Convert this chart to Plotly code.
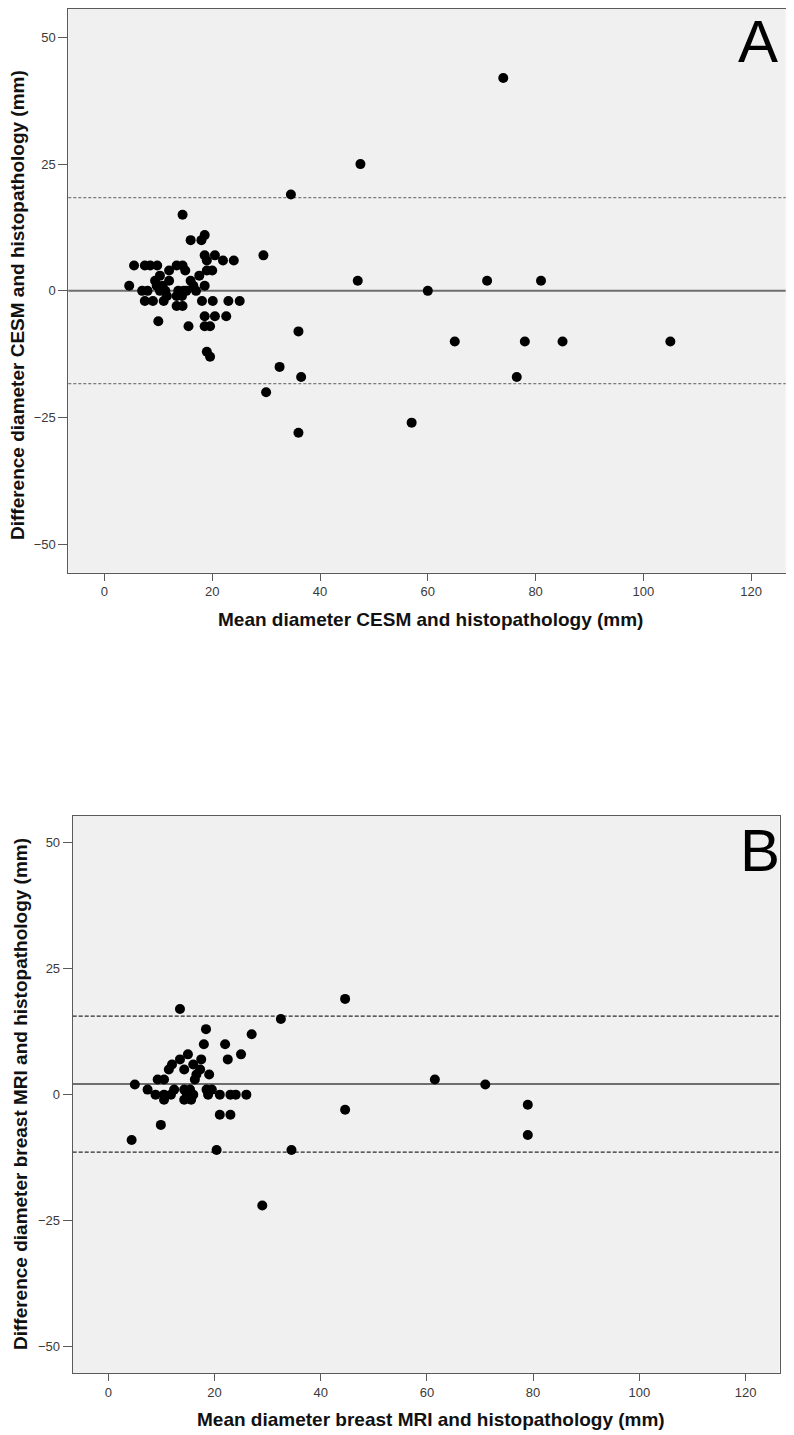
import plotly.graph_objects as go

# ---------------- Panel A data (CESM vs histopathology) ----------------
a_mean = [74, 47.5, 34.6, 47, 60, 71, 81, 36, 65, 78, 85, 105, 32.5, 36.5, 76.5, 57, 36, 30, 29.5,
          14.5, 16, 18, 18.6, 5.5, 7.5, 8.5, 9.8, 12, 13.4, 14.5, 15, 18.6, 20.5, 19, 22, 24, 19, 20,
          17.6, 4.6, 9.4, 10.3, 9.7, 12, 7, 8, 10.3, 7.5, 9, 11, 11.6, 13.7, 14.7, 15.2, 13.4, 14.4,
          13.4, 14.5, 16, 16.5, 17, 18.6, 18.1, 20.1, 23, 25.1, 18.6, 20.5, 22.6, 18.6, 19.6, 15.6,
          10, 19, 19.6, 10.8, 11.3]
a_diff = [42, 25, 19, 2, 0, 2, 2, -8, -10, -10, -10, -10, -15, -17, -17, -26, -28, -20, 7,
          15, 10, 10, 11, 5, 5, 5, 5, 4, 5, 5, 4, 7, 7, 6, 6, 6, 4, 4,
          3, 1, 2, 3, 1, 2, 0, 0, 0, -2, -2, -2, -1, 0, 0, 0, -1, -1,
          -3, -3, 2, 1, 0, 1, -2, -2, -2, -2, -5, -5, -5, -7, -7, -7,
          -6, -12, -13, 1, 0]
a_bias = 0.0
a_loa_upper = 18.4
a_loa_lower = -18.3

# ---------------- Panel B data (breast MRI vs histopathology) ----------------
b_mean = [13.5, 32.5, 44.6, 18.4, 27, 18, 22, 22.5, 25, 15, 13.5, 12, 11.4, 14.3, 16, 17.5, 17.3,
          16.6, 16.3, 19, 9.3, 10.5, 5, 7.4, 8.9, 10.5, 11.8, 10.5, 12.4, 14.3, 15.4, 14.8, 16,
          14.3, 15.6, 18.5, 19.5, 18.8, 21, 23, 24, 26, 21, 23, 9.9, 4.4, 20.4, 34.5, 44.6,
          61.5, 71, 79, 79, 29]
b_diff = [17, 15, 19, 13, 12, 10, 10, 7, 8, 8, 7, 6, 5, 5, 6, 7, 5,
          4, 3, 4, 3, 3, 2, 1, 0, 0, 0, -1, 1, 1, 1, 0, 0,
          -1, -1, 1, 1, 0, 0, 0, 0, 0, -4, -4, -6, -9, -11, -11, -3,
          3, 2, -2, -8, -22]
b_bias = 2.1
b_loa_upper = 15.6
b_loa_lower = -11.4

x_ticks = [0, 20, 40, 60, 80, 100, 120]
y_ticks = [-50, -25, 0, 25, 50]
x_range = [-6.7, 126.4]

title_xa = "Mean diameter CESM and histopathology (mm)"
title_ya = "Difference diameter CESM and histopathology (mm)"
title_xb = "Mean diameter breast MRI and histopathology (mm)"
title_yb = "Difference diameter breast MRI and histopathology (mm)"

# page body has an 8px margin: the figure is sized to fit the visible window
OFF = 8
W, H = 794 - OFF, 1435 - OFF
FONT = "Liberation Sans, Arial, sans-serif"

def fx(px):
    return (px - OFF) / W

def fy(py):
    return 1 - (py - OFF) / H

fig = go.Figure()
fig.add_trace(go.Scatter(x=a_mean, y=a_diff, mode="markers", xaxis="x", yaxis="y",
                         marker=dict(color="black", size=10, line=dict(width=0)),
                         showlegend=False, hoverinfo="x+y"))
fig.add_trace(go.Scatter(x=b_mean, y=b_diff, mode="markers", xaxis="x2", yaxis="y2",
                         marker=dict(color="black", size=10, line=dict(width=0)),
                         showlegend=False, hoverinfo="x+y"))

axis_common = dict(showline=True, mirror=True, linecolor="#5a5a5a", linewidth=1,
                   showgrid=False, zeroline=False, ticks="outside", tickcolor="#5a5a5a",
                   tickfont=dict(family=FONT, size=13, color="#3a3a3a"), fixedrange=True)

fig.update_layout(
    width=W, height=H,
    margin=dict(l=0, r=0, t=0, b=0),
    paper_bgcolor="white",
    plot_bgcolor="#f0f0f0",
    xaxis=dict(domain=[fx(68.3), fx(785.7)], range=x_range, tickvals=x_ticks, ticklen=7,
               anchor="y", **axis_common),
    yaxis=dict(domain=[fy(572.7), fy(9)], range=[-55.6, 55.6], tickvals=y_ticks,
               ticklen=9, anchor="x", **axis_common),
    xaxis2=dict(domain=[fx(72.7), fx(779.5)], range=x_range, tickvals=x_ticks, ticklen=7,
                anchor="y2", **axis_common),
    yaxis2=dict(domain=[fy(1373.3), fy(816)], range=[-55.3, 55.3], tickvals=y_ticks,
                ticklen=9, anchor="x2", **axis_common),
)

shapes = []
def hline(yval, xref, yref, color, width, dash):
    shapes.append(dict(type="line", xref=xref + " domain", yref=yref, x0=0, x1=1, y0=yval, y1=yval,
                       line=dict(color=color, width=width, dash=dash), layer="below"))

hline(a_bias, "x", "y", "#6e6e6e", 2, "solid")
hline(a_loa_upper, "x", "y", "#7a7a7a", 1.2, "3px,2px")
hline(a_loa_lower, "x", "y", "#7a7a7a", 1.2, "3px,2px")
hline(b_bias, "x2", "y2", "#6e6e6e", 2, "solid")
hline(b_loa_upper, "x2", "y2", "#2a2a2a", 1.2, "4px,2px")
hline(b_loa_lower, "x2", "y2", "#2a2a2a", 1.2, "4px,2px")
fig.update_layout(shapes=shapes)

ann = []
title_font = dict(family=FONT, size=19, color="#111111")
ann.append(dict(text="<b>%s</b>" % title_xa, xref="paper", yref="paper", x=fx(431), y=fy(619),
                showarrow=False, font=title_font, xanchor="center", yanchor="middle"))
ann.append(dict(text="<b>%s</b>" % title_ya, xref="paper", yref="paper", x=fx(18), y=fy(305),
                showarrow=False, font=title_font, textangle=-90, xanchor="center", yanchor="middle"))
ann.append(dict(text="<b>%s</b>" % title_xb, xref="paper", yref="paper", x=fx(431), y=fy(1419),
                showarrow=False, font=title_font, xanchor="center", yanchor="middle"))
ann.append(dict(text="<b>%s</b>" % title_yb, xref="paper", yref="paper", x=fx(20), y=fy(1094),
                showarrow=False, font=title_font, textangle=-90, xanchor="center", yanchor="middle"))
ann.append(dict(text="A", xref="paper", yref="paper", x=fx(758), y=fy(42),
                showarrow=False, font=dict(family=FONT, size=60, color="black"),
                xanchor="center", yanchor="middle"))
ann.append(dict(text="B", xref="paper", yref="paper", x=fx(760), y=fy(850),
                showarrow=False, font=dict(family=FONT, size=60, color="black"),
                xanchor="center", yanchor="middle"))
fig.update_layout(annotations=ann)

fig.write_html("out.html")
